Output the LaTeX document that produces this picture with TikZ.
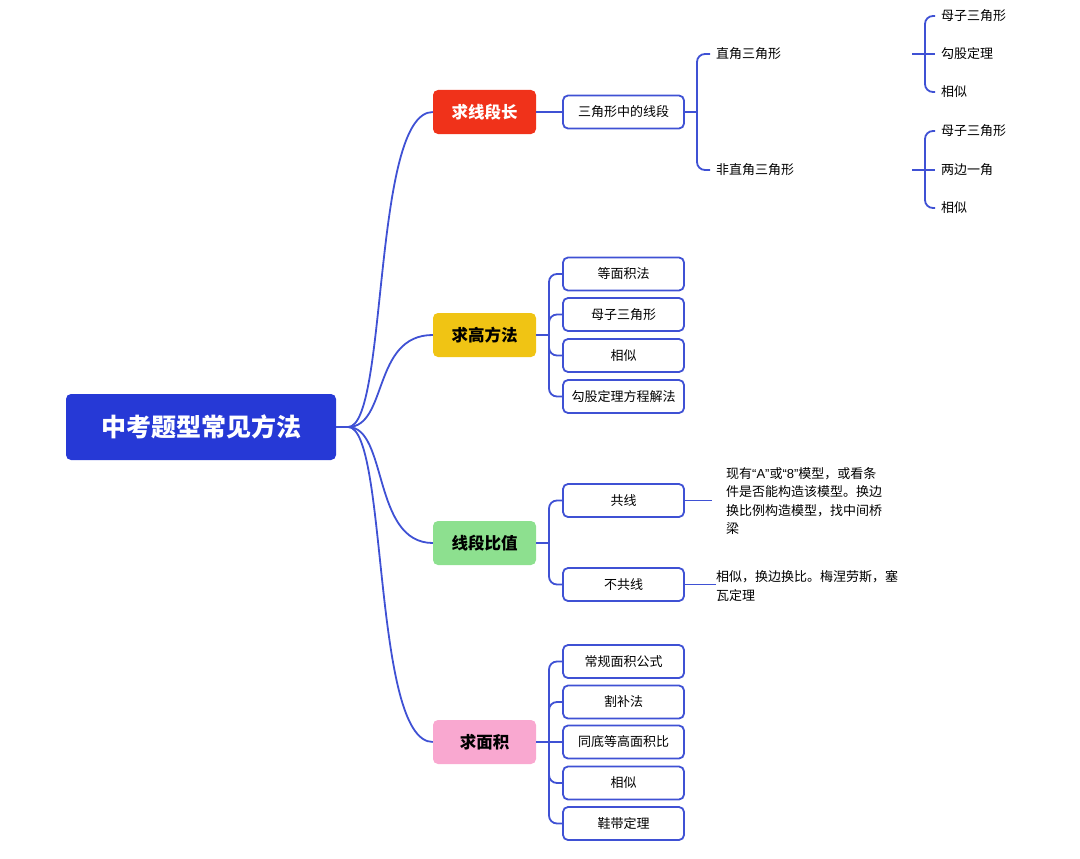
\documentclass[tikz,border=0pt]{standalone}
\usepackage{fontspec}
\setmainfont{Noto Sans CJK SC}
\newfontfamily\lat{Liberation Sans}
\begin{document}
\begin{tikzpicture}[x=1pt,y=-1pt,
  ln/.style={draw=lineblue,line width=1.8pt,rounded corners=8pt},
  l1/.style={rounded corners=5pt,minimum width=103pt,minimum height=44pt,font=\fontsize{16.5}{18}\selectfont\bfseries,inner sep=0pt},
  l2/.style={draw=lineblue,line width=1.8pt,fill=white,rounded corners=5pt,minimum width=121pt,minimum height=33pt,font=\fontsize{13}{15}\selectfont,inner sep=0pt},
  tx/.style={font=\fontsize{13}{15}\selectfont,anchor=west,inner sep=0pt}]
\definecolor{lineblue}{HTML}{3F51D4}
\definecolor{rootblue}{HTML}{2639D6}
\definecolor{cred}{HTML}{F0321A}
\definecolor{cyel}{HTML}{F0C414}
\definecolor{cgrn}{HTML}{8DE08F}
\definecolor{cpnk}{HTML}{F9A8D0}
\useasboundingbox (0,0) rectangle (1080,859);
\node[fill=rootblue,rounded corners=5pt,minimum width=270pt,minimum height=66pt,text=white,font=\fontsize{25}{28}\selectfont\bfseries] (root) at (201,427) {中考题型常见方法};
\node[l1,fill=cred,text=white] (a) at (484.5,112) {求线段长};
\node[l1,fill=cyel] (b) at (484.5,335) {求高方法};
\node[l1,fill=cgrn] (c) at (484.5,543) {线段比值};
\node[l1,fill=cpnk] (d) at (484.5,742) {求面积};
\coordinate (r0) at (348,427);
\draw[ln] (root.east) -- (r0);
\foreach \n/\y in {a/112,b/335,c/543,d/742}
  \draw[lineblue,line width=1.8pt] (r0) .. controls (388,427) and (372,\y) .. (\n.west);
% level 2
\node[l2] (a1) at (623.5,112) {三角形中的线段};
\node[l2] (b1) at (623.5,274) {等面积法};
\node[l2] (b2) at (623.5,314.5) {母子三角形};
\node[l2] (b3) at (623.5,355.5) {相似};
\node[l2] (b4) at (623.5,396.5) {勾股定理方程解法};
\node[l2] (c1) at (623.5,500.5) {共线};
\node[l2] (c2) at (623.5,584.5) {不共线};
\node[l2] (d1) at (623.5,661.5) {常规面积公式};
\node[l2] (d2) at (623.5,702) {割补法};
\node[l2] (d3) at (623.5,742) {同底等高面积比};
\node[l2] (d4) at (623.5,783) {相似};
\node[l2] (d5) at (623.5,823.5) {鞋带定理};
\draw[ln] (a.east) -- (a1.west);
\draw[ln] (b.east) -- (549,335);
\foreach \t in {b1,b2,b3,b4} \draw[ln] (549,335) |- (\t.west);
\draw[ln] (c.east) -- (549,543);
\foreach \t in {c1,c2} \draw[ln] (549,543) |- (\t.west);
\draw[ln] (d.east) -- (d3.west);
\foreach \t in {d1,d2,d4,d5} \draw[ln] (549,742) |- (\t.west);
% level 3
\node[tx] (e1) at (716,54) {直角三角形};
\node[tx] (e2) at (716,170) {非直角三角形};
\draw[ln] (a1.east) -- (697,112);
\foreach \t in {e1,e2} \draw[ln] (697,112) |- ([xshift=-6pt]\t.west);
\node[tx] (f1) at (941,16) {母子三角形};
\node[tx] (f2) at (941,54) {勾股定理};
\node[tx] (f3) at (941,92) {相似};
\node[tx] (g1) at (941,131) {母子三角形};
\node[tx] (g2) at (941,170) {两边一角};
\node[tx] (g3) at (941,208) {相似};
\coordinate (e1r) at (912,54);
\coordinate (e2r) at (912,170);
\draw[ln] (e1r) -- ([xshift=-6pt]f2.west);
\foreach \t in {f1,f3} \draw[ln] (925,54) |- ([xshift=-6pt]\t.west);
\draw[ln] (e2r) -- ([xshift=-6pt]g2.west);
\foreach \t in {g1,g3} \draw[ln] (925,170) |- ([xshift=-6pt]\t.west);
\node[font=\fontsize{13}{18.5}\selectfont,align=left,anchor=west,inner sep=0pt] (h1) at (726,501) {现有{\lat“A”}或{\lat“8”}模型，或看条\\件是否能构造该模型。换边\\换比例构造模型，找中间桥\\梁};
\node[font=\fontsize{13}{18.5}\selectfont,align=left,anchor=west,inner sep=0pt] (h2) at (716,586) {相似，换边换比。梅涅劳斯，塞\\瓦定理};
\draw[ln] (c1.east) -- (712,500.5);
\draw[ln] (c2.east) -- (h2.west |- c2.east);
\end{tikzpicture}
\end{document}
